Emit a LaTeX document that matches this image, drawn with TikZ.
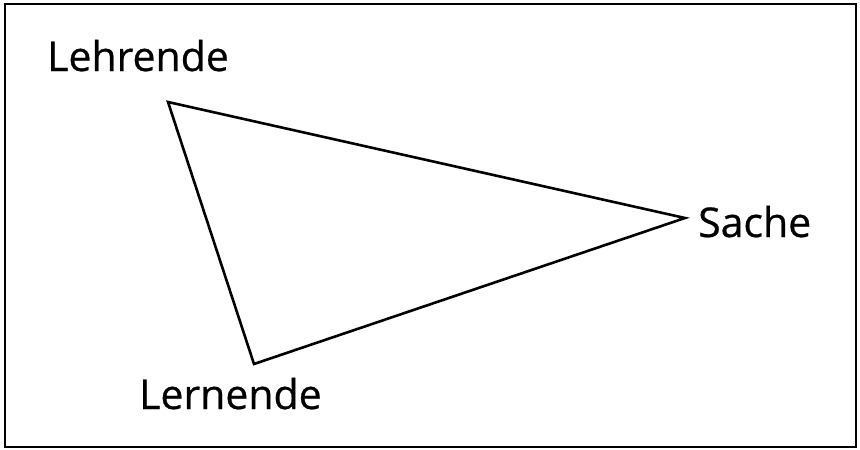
\documentclass[tikz,border=0pt]{standalone}
\usepackage{fontspec}
\setmainfont[FakeBold=0.6]{Open Sans}
\begin{document}
\begin{tikzpicture}[x=1pt,y=-1pt,
  label/.style={anchor=base west,inner sep=0pt,font=\fontsize{41}{48}\selectfont}]
\useasboundingbox (0,0) rectangle (860,450);
\draw[line width=2.2pt] (5,4) rectangle (856,447);
\node[label] (lehrende) at (47,71) {Lehrende};
\node[label] (sache) at (698,237) {Sache};
\node[label] (lernende) at (139,409) {Lernende};
\coordinate (l) at (168,102);
\coordinate (s) at (685,218);
\coordinate (n) at (254,364);
\draw[line width=2.6pt,line join=miter] (l) -- (s) -- (n) -- cycle;
\end{tikzpicture}
\end{document}
